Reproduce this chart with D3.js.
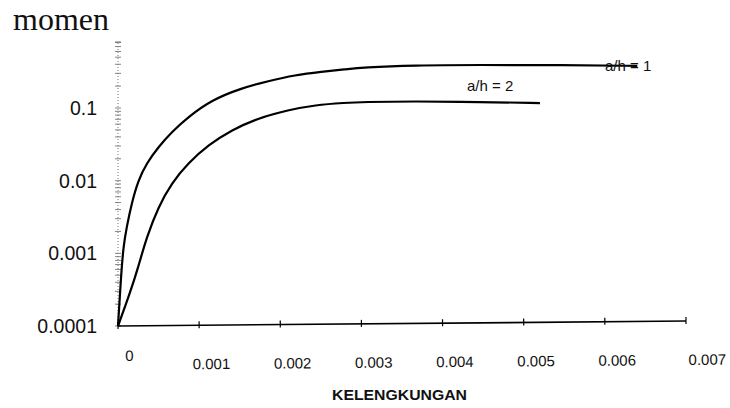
<!DOCTYPE html>
<html>
<head>
<meta charset="utf-8">
<script src="https://cdn.jsdelivr.net/npm/d3@7"></script>
<style>
  body { margin: 0; background: #fff; }
  text { font-family: "Liberation Sans", Arial, sans-serif; fill: #111; }
</style>
</head>
<body>
<svg id="chart" width="730" height="408"></svg>
<script>
// curvature (kelengkungan) values and moment values
var xAH1 = [0, 0.000037, 0.0000653, 0.000107, 0.000169, 0.00025, 0.000354, 0.000497, 0.000662, 0.000866, 0.001155, 0.001524, 0.001852, 0.002181, 0.00251, 0.0028, 0.00302, 0.00364, 0.00446, 0.00541, 0.00640];
var yAH1 = [0.0001, 0.000472, 0.00122, 0.0023, 0.00493, 0.0102, 0.0175, 0.029, 0.0468, 0.0752, 0.129, 0.188, 0.235, 0.284, 0.315, 0.340, 0.362, 0.388, 0.392, 0.390, 0.380];

var xAH2 = [0, 0.000148, 0.00025, 0.000354, 0.000497, 0.000662, 0.000866, 0.001113, 0.001401, 0.001729, 0.002099, 0.002428, 0.0028, 0.00302, 0.00364, 0.00446, 0.0052];
var yAH2 = [0.0001, 0.000284, 0.000649, 0.00168, 0.00435, 0.00929, 0.0175, 0.031, 0.0498, 0.0728, 0.0938, 0.110, 0.118, 0.121, 0.124, 0.121, 0.117];

var xTicks = [0, 0.001, 0.002, 0.003, 0.004, 0.005, 0.006, 0.007];
var yTicks = [0.0001, 0.001, 0.01, 0.1];
var seriesNames = ["a/h = 1", "a/h = 2"];

var svg = d3.select("#chart");

var x = d3.scaleLinear().domain([0, 0.007]).range([118, 686]);
var y = d3.scaleLog().domain([0.0001, 0.81]).range([326, 42]);

// title of the y axis
svg.append("text")
  .attr("x", 13).attr("y", 30)
  .style("font-family", "'Liberation Serif', 'Times New Roman', serif")
  .style("font-size", "32px")
  .text("momen");

// y axis - dotted line with small crossing ticks
var minor = y.ticks();
var yAxis = svg.append("g");
yAxis.append("line")
  .attr("x1", 118).attr("x2", 118)
  .attr("y1", y(0.0001)).attr("y2", y(0.81))
  .attr("stroke", "#777").attr("stroke-width", 1)
  .attr("stroke-dasharray", "1,2");
yAxis.selectAll(".mt")
  .data(minor.concat([0.81]))
  .enter().append("line")
  .attr("x1", 115).attr("x2", 121)
  .attr("y1", d => y(d)).attr("y2", d => y(d))
  .attr("stroke", "#666").attr("stroke-width", 0.8);
yAxis.selectAll(".yl")
  .data(yTicks)
  .enter().append("text")
  .attr("x", 97)
  .attr("y", d => y(d) + 2)
  .attr("text-anchor", "end")
  .attr("dominant-baseline", "middle")
  .style("font-size", "19.5px")
  .text(d => d.toString().replace(/^1e-4$/, "0.0001"));

// x axis
var xAxis = svg.append("g").attr("transform", "rotate(-0.5, 118, 326)");
xAxis.append("line")
  .attr("x1", x(0)).attr("x2", x(0.007))
  .attr("y1", 326).attr("y2", 326)
  .attr("stroke", "#000").attr("stroke-width", 1.6);
xAxis.selectAll(".xt")
  .data(xTicks)
  .enter().append("line")
  .attr("x1", d => x(d)).attr("x2", d => x(d))
  .attr("y1", 322).attr("y2", 329)
  .attr("stroke", "#000").attr("stroke-width", 1.2);
xAxis.selectAll(".xl")
  .data(xTicks)
  .enter().append("text")
  .attr("x", d => x(d) + (d === 0 ? 11 : (d === 0.007 ? 21 : 12)))
  .attr("y", d => d === 0 ? 361 : 370)
  .attr("text-anchor", "middle")
  .style("font-size", "15px")
  .text(d => d === 0 ? "0" : d3.format(".3f")(d));

svg.append("text")
  .attr("x", 332).attr("y", 400)
  .attr("textLength", 135).attr("lengthAdjust", "spacingAndGlyphs")
  .style("font-size", "14px").style("font-weight", "bold")
  .text("KELENGKUNGAN");

// curves
var line = d3.line()
  .x(d => x(d[0]))
  .y(d => y(d[1]))
  .curve(d3.curveBasis);

[[xAH1, yAH1], [xAH2, yAH2]].forEach(function(s) {
  svg.append("path")
    .datum(d3.zip(s[0], s[1]))
    .attr("d", line)
    .attr("fill", "none")
    .attr("stroke", "#000")
    .attr("stroke-width", 2.2);
});

// series labels
svg.append("text")
  .attr("x", 605).attr("y", 71)
  .style("font-size", "15px")
  .text(seriesNames[0]);
svg.append("text")
  .attr("x", 467).attr("y", 91)
  .style("font-size", "15px")
  .text(seriesNames[1]);
</script>
</body>
</html>
